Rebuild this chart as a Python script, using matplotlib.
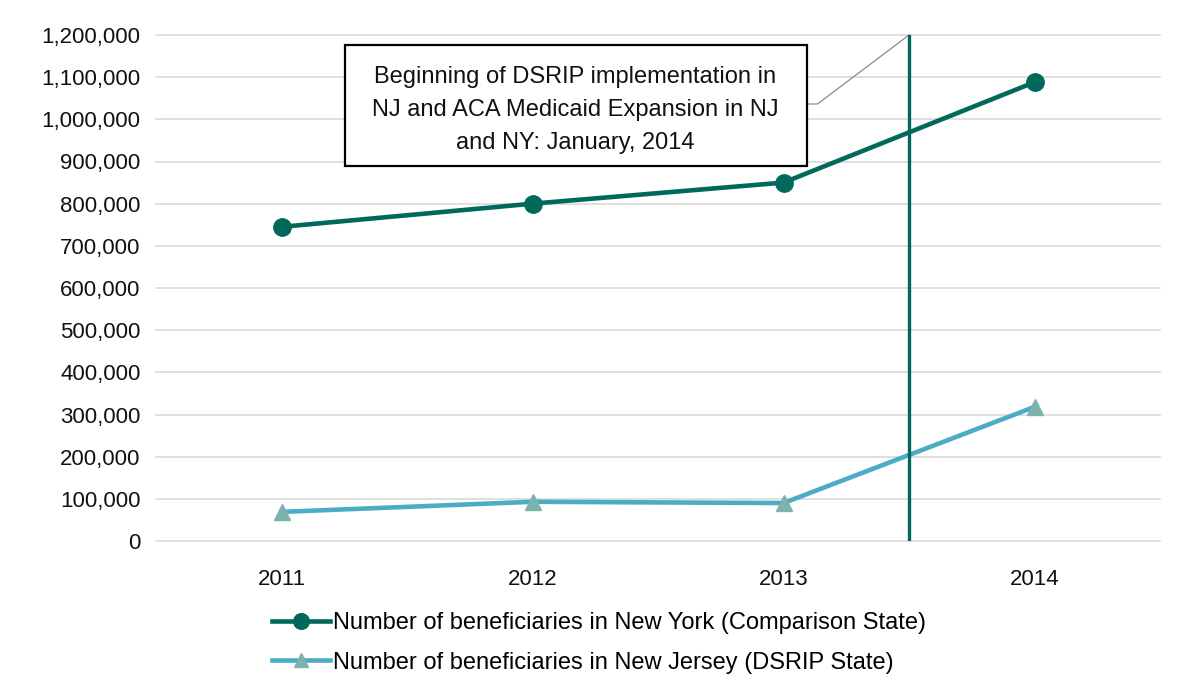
import matplotlib.pyplot as plt
from matplotlib.patches import Rectangle
from matplotlib.ticker import FuncFormatter

plt.rcParams['font.family'] = ['Liberation Sans', 'DejaVu Sans']

years = ['2011', '2012', '2013', '2014']
ny_beneficiaries = [745000, 800000, 850000, 1088000]
nj_beneficiaries = [69000, 93000, 90000, 318000]
ny_label = 'Number of beneficiaries in New York (Comparison State)'
nj_label = 'Number of beneficiaries in New Jersey (DSRIP State)'
note = ('Beginning of DSRIP implementation in\n'
        'NJ and ACA Medicaid Expansion in NJ\n'
        'and NY: January, 2014')

ny_color = '#00695C'
nj_line = '#4BACC6'
nj_marker = '#7DB3AE'

fig = plt.figure(figsize=(11.78, 6.93), dpi=100)
ax = fig.add_axes([156 / 1178, 1 - 541 / 693, 1004 / 1178, 506 / 693])

x = range(len(years))
ax.plot(x, ny_beneficiaries, color=ny_color, lw=3.3, marker='o', ms=12.5,
        label=ny_label, zorder=3)
ax.plot(x, nj_beneficiaries, color=nj_line, lw=3.3, marker='^', ms=11,
        markerfacecolor=nj_marker, markeredgecolor=nj_marker,
        label=nj_label, zorder=3)

# policy start line between 2013 and 2014
ax.axvline(2.5, color=ny_color, lw=2.4, zorder=4)

ax.set_xlim(-0.5, 3.5)
ax.set_ylim(0, 1200000)
ax.set_xticks(list(x))
ax.set_xticklabels(years)
ax.set_yticks(range(0, 1200001, 100000))
ax.yaxis.set_major_formatter(FuncFormatter(lambda v, p: f'{int(v):,}'))
ax.tick_params(labelsize=16, length=0, colors='#111111')
ax.tick_params(axis='x', pad=20)
ax.tick_params(axis='y', pad=11)
ax.grid(axis='y', color='#d9d9d9', lw=1.2)
for gl in ax.get_ygridlines():
    gl.set_clip_on(False)
ax.set_axisbelow(True)
for s in ax.spines.values():
    s.set_visible(False)

# annotation box with leader line to the top of the policy line
to_x = lambda px: (px - 282) / 251
to_y = lambda py: (541 - py) / 506 * 1200000
ax.add_patch(Rectangle((to_x(345), to_y(166)), to_x(807) - to_x(345),
                       to_y(45) - to_y(166), fc='white', ec='black', lw=1.6,
                       zorder=5, clip_on=False))
ax.text((to_x(345) + to_x(807)) / 2, to_y(110), note, ha='center', va='center',
        fontsize=17, linespacing=1.62, color='#111111', zorder=6)
ax.plot([to_x(807), to_x(818), 2.5], [to_y(104), to_y(104), 1200000],
        color='#8c8c8c', lw=0.9, zorder=2, clip_on=False)

fig.legend(loc='upper left', bbox_to_anchor=(272 / 1178, 1 - 612 / 693),
           frameon=False, fontsize=17, handlelength=2.45, handletextpad=0.15,
           labelspacing=0.75, borderpad=0, borderaxespad=0, markerscale=0.9)

fig.savefig('out.png', dpi=100)
